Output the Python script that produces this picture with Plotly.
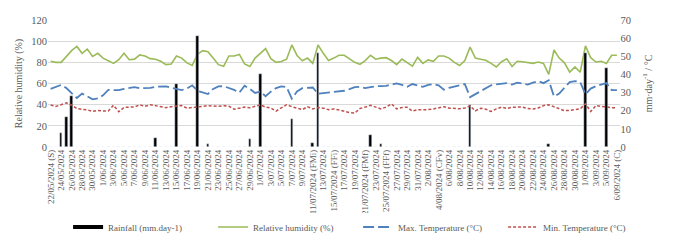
import plotly.graph_objects as go
from plotly.subplots import make_subplots

# Day index (one slot per observation)
day = list(range(109))

tick_labels = [
    "22/05/2024 (S)", "24/05/2024", "26/05/2024", "28/05/2024", "30/05/2024",
    "1/06/2024", "3/06/2024", "5/06/2024", "7/06/2024", "9/06/2024",
    "11/06/2024", "13/06/2024", "15/06/2024", "17/06/2024", "19/06/2024",
    "21/06/2024", "23/06/2024", "25/06/2024", "27/06/2024", "29/06/2024",
    "1/07/2024", "3/07/2024", "5/07/2024", "7/07/2024", "9/07/2024",
    "11/07/2024 (FMi)", "13/07/2024", "15/07/2024 (FFi)", "17/07/2024", "19/07/2024",
    "21/07/2024 (FMf)", "23/07/2024", "25/07/2024 (FFf)", "27/07/2024", "29/07/2024",
    "31/07/2024", "2/08/2024", "4/08/2024 (CFv)", "6/08/2024", "8/08/2024",
    "10/08/2024", "12/08/2024", "14/08/2024", "16/08/2024", "18/08/2024",
    "20/08/2024", "22/08/2024", "24/08/2024", "26/08/2024", "28/08/2024",
    "30/08/2024", "1/09/2024", "3/09/2024", "5/09/2024", "6/09/2024 (C)",
]
tick_pos = list(range(0, 109, 2))

rainfall = [
    0, 0, 7.6, 16.5, 28, 0, 0, 0, 0, 0,
    0, 0, 0, 0, 0, 0, 0, 0, 0, 0,
    5.2, 0, 0, 0, 34.8, 0, 0, 0, 61.4, 0,
    1.5, 0, 0, 0, 0, 0, 0, 0, 4.4, 0,
    40.5, 0, 0, 0, 0, 0, 15.7, 0, 0, 0,
    2.3, 51.9, 0, 0, 0, 0, 0, 0, 0, 0,
    0, 6.5, 0, 1.5, 0, 0, 0, 0, 0, 0,
    0, 0, 0, 0, 0, 0, 0, 0, 0, 0,
    23.4, 0, 0, 0, 0, 0, 0, 0, 0, 0,
    0, 0, 0, 0, 0, 1.9, 0, 0, 0, 0,
    0, 0, 51.7, 0, 0, 0, 43.7, 0, 0,
]

rel_humidity = [
    81, 80, 80, 86, 91, 95, 88.5, 92.5, 85.5, 88.5,
    84, 81.5, 79, 82.5, 88.5, 82.5, 83, 87, 86, 83.5,
    83, 81, 77.8, 78.5, 86, 84, 79.5, 77, 87.5, 91,
    90, 84, 77.8, 76.2, 86, 86, 87.5, 78.5, 76, 84,
    88.5, 93, 83.5, 80, 80.8, 83, 96.4, 86.5, 81.5, 84,
    79, 96.4, 88.5, 81.8, 84, 86.7, 86.7, 83, 80, 78,
    81.7, 86.7, 83, 84, 84.4, 81.7, 77.8, 83, 79.7, 76.4,
    84.7, 79, 82.3, 81, 86, 86, 84, 80, 77, 81.7,
    94.4, 84, 83, 82, 79, 75.6, 80.6, 83.3, 76, 81,
    80.6, 79.7, 79, 80.3, 79, 68.6, 91.7, 84, 79.5, 70.7,
    75.6, 70.6, 95.6, 84.4, 80.3, 81, 79, 86.7, 86.7,
]

max_temp = [
    32, 33, 34.2, 32.5, 30, 27, 29.5, 28, 26.3, 26.8,
    28.5, 31.5, 31.4, 31.3, 32, 32.6, 33, 32.4, 32.3, 32.6,
    33.2, 33.5, 33.4, 32.7, 32, 31.4, 32.2, 34, 31, 30.2,
    29.2, 32, 33.4, 33.5, 32.5, 31.5, 30, 33.8, 32, 29.8,
    30.5, 28, 30.5, 32.5, 33.4, 33, 26.6, 30.6, 32.4, 32.6,
    32.8, 29.3, 29.7, 30, 30.3, 30.6, 31, 31.9, 33, 33.2,
    32.5, 33, 33.5, 33.5, 33.7, 34.4, 35.1, 34.2, 33.2, 34.7,
    34, 33.2, 34.2, 34.7, 34, 31.6, 32.6, 33.2, 34, 34.7,
    27.5, 29.2, 30.8, 32.5, 34, 34.5, 34.7, 35.2, 34.4, 35.5,
    35, 34.4, 35.5, 36.3, 35.2, 36.8, 27.8, 29.5, 32.7, 35.8,
    36.3, 35.8, 29, 32.2, 33.5, 34.5, 35.2, 31.4, 31.4,
]

min_temp = [
    23.2, 22.4, 23.3, 24.3, 23.1, 21.2, 20.8, 20.5, 19.6, 20.1,
    19.9, 19.8, 23, 19.4, 21.8, 22.1, 22.1, 23.2, 22.4, 23.3,
    22.9, 22.5, 21.7, 22.2, 22.7, 22.9, 21.4, 21.6, 22.2, 22.4,
    22.8, 22.5, 22.4, 22.8, 22.5, 20.8, 21.6, 22, 21.6, 22.5,
    23.2, 22, 21.5, 19.8, 21.4, 23.3, 22.2, 21.4, 20.6, 22.2,
    21, 21.7, 21.4, 20.6, 21, 20.4, 19.6, 19, 18.7, 21.2,
    22, 23, 22, 21, 22, 23.8, 21, 21.8, 21.9, 19.8,
    20.6, 20.5, 20.6, 21, 21.6, 22.2, 21.4, 21.1, 21.1, 21.5,
    22.7, 19.9, 21.4, 20.8, 19.6, 21, 22, 21.2, 21.9, 22,
    22, 21.2, 21, 21.5, 22.8, 23.3, 22.2, 21.2, 20, 20.2,
    20.5, 21, 23.8, 19.6, 22.8, 22.4, 22, 21.7, 21.7,
]

FONT = "Liberation Serif, Times New Roman, serif"
GREY = "#595959"
GRID = "#d9d9d9"

fig = make_subplots(specs=[[{"secondary_y": True}]])

fig.add_trace(go.Bar(x=day, y=rainfall, marker_color="black", width=0.5,
                     showlegend=False, name="Rainfall (mm.day-1)"), secondary_y=True)
# legend entry for rainfall (thick black bar symbol)
fig.add_trace(go.Scatter(x=[None], y=[None], mode="lines", name="Rainfall (mm.day-1)",
                         line=dict(color="black", width=4)), secondary_y=True)
fig.add_trace(go.Scatter(x=day, y=rel_humidity, mode="lines", name="Relative humidity (%)",
                         line=dict(color="#9BBB59", width=1.6)), secondary_y=False)
fig.add_trace(go.Scatter(x=day, y=max_temp, mode="lines", name="Max. Temperature (°C)",
                         line=dict(color="#4F81BD", width=1.8, dash="11px,4px")), secondary_y=True)
fig.add_trace(go.Scatter(x=day, y=min_temp, mode="lines", name="Min. Temperature (°C)",
                         line=dict(color="#C0504D", width=1.5, dash="3px,2px")), secondary_y=True)

fig.update_layout(
    width=685, height=240,
    margin=dict(l=40, r=37, t=7, b=89),
    plot_bgcolor="white", paper_bgcolor="white",
    font=dict(family=FONT, color=GREY, size=10),
    bargap=0,
    legend=dict(orientation="h", x=0.51, xanchor="center", y=-0.63, yanchor="middle",
                entrywidth=100, entrywidthmode="pixels",
                font=dict(size=9, family=FONT, color=GREY), traceorder="normal"),
)
fig.update_xaxes(range=[-0.5, 108.5], tickmode="array", tickvals=tick_pos, ticktext=tick_labels,
                 tickangle=-90, tickfont=dict(size=9, family=FONT, color=GREY),
                 showgrid=False, zeroline=False, showline=False, ticks="")
fig.update_yaxes(range=[0, 120], dtick=20, showgrid=True, gridcolor=GRID, gridwidth=1,
                 zeroline=False, showline=False, ticks="",
                 tickfont=dict(size=10.5, family=FONT, color=GREY),
                 title=dict(text="Relative humidity (%)", font=dict(size=10, family=FONT, color=GREY),
                            standoff=6),
                 secondary_y=False)
fig.update_yaxes(range=[0, 70], dtick=10, showgrid=False, zeroline=False, showline=False, ticks="",
                 tickfont=dict(size=10.5, family=FONT, color=GREY),
                 title=dict(text="mm·day<sup>-1</sup> / °C", font=dict(size=10, family=FONT, color=GREY),
                            standoff=14),
                 secondary_y=True)

fig.write_html("out.html")
